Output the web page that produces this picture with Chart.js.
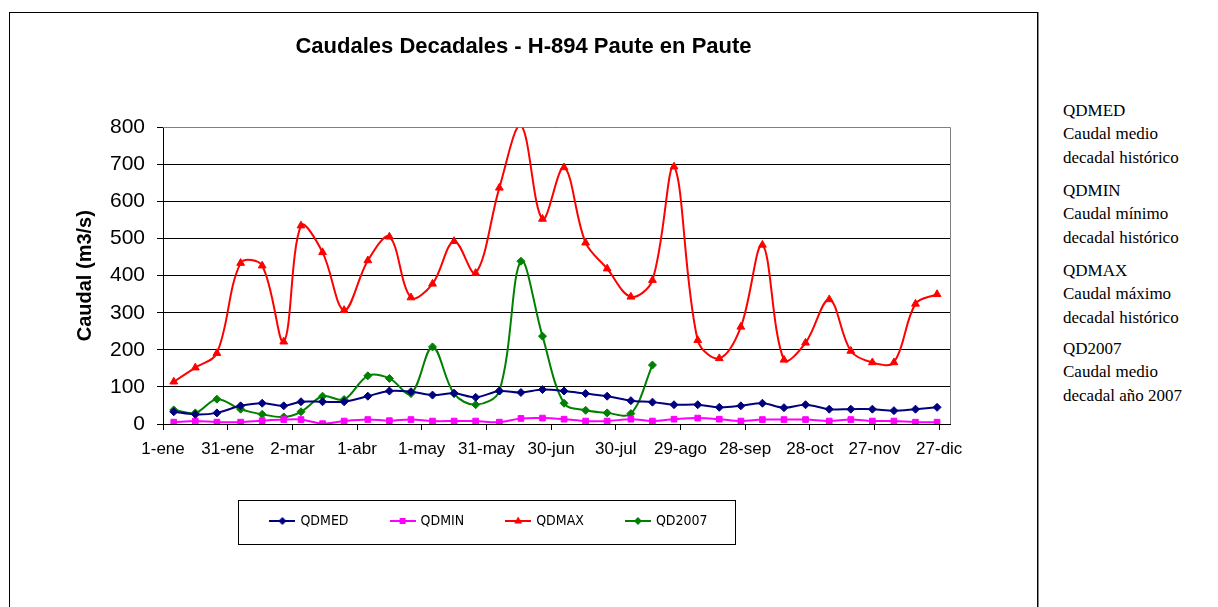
<!DOCTYPE html>
<html><head><meta charset="utf-8">
<script src="https://cdn.jsdelivr.net/npm/chart.js@4.4.1/dist/chart.umd.min.js"></script>
<style>
html,body{margin:0;padding:0;background:#fff;width:1218px;height:607px;overflow:hidden;}
#frame{position:absolute;left:9px;top:12px;width:1029px;height:640px;border:1px solid #000;box-sizing:border-box;box-shadow:1px 0 0 #888;}
#wrap{position:absolute;left:10px;top:13px;width:960px;height:580px;}
#notes{position:absolute;left:1063px;top:0;font-family:'Liberation Serif','Times New Roman',serif;font-size:17px;line-height:23.75px;color:#000;}
#notes .g{position:absolute;left:0;white-space:nowrap;}
</style>
</head><body>
<div id="frame"></div>
<div id="wrap"><canvas id="c" width="960" height="580"></canvas></div>
<div id="notes">
  <div class="g" style="top:98.5px">QDMED<br>Caudal medio<br>decadal histórico</div>
  <div class="g" style="top:178.5px">QDMIN<br>Caudal mínimo<br>decadal histórico</div>
  <div class="g" style="top:258.5px">QDMAX<br>Caudal máximo<br>decadal histórico</div>
  <div class="g" style="top:336.5px">QD2007<br>Caudal medio<br>decadal año 2007</div>
</div>
<script>
// Decadas (fechas centrales de cada década)
const fechas = [
  '2007-01-06','2007-01-16','2007-01-26','2007-02-06','2007-02-16','2007-02-26',
  '2007-03-06','2007-03-16','2007-03-26','2007-04-06','2007-04-16','2007-04-26',
  '2007-05-06','2007-05-16','2007-05-26','2007-06-06','2007-06-16','2007-06-26',
  '2007-07-06','2007-07-16','2007-07-26','2007-08-06','2007-08-16','2007-08-26',
  '2007-09-06','2007-09-16','2007-09-26','2007-10-06','2007-10-16','2007-10-26',
  '2007-11-06','2007-11-16','2007-11-26','2007-12-06','2007-12-16','2007-12-26'
];
const QDMED  = [33,26,30,49,56,49,60,60,60,75,89,87,78,83,72,89,85,93,89,82,75,63,59,52,52,45,49,56,44,52,40,40,40,36,40,45];
const QDMIN  = [5,8,5,5,9,12,12,1,8,12,9,12,8,8,8,5,15,16,13,8,8,13,8,13,16,13,8,12,12,12,8,12,8,8,5,5];
const QDMAX  = [114,152,191,434,427,222,535,463,307,441,505,341,378,493,407,637,805,553,692,489,419,343,388,694,226,177,262,483,173,219,336,197,166,166,324,350];
const QD2007 = [38,30,67,40,26,19,33,75,66,130,123,82,208,82,52,89,439,237,56,37,30,28,159,null,null,null,null,null,null,null,null,null,null,null,null,null];
const etiquetasX = ['1-ene','31-ene','2-mar','1-abr','1-may','31-may','30-jun','30-jul','29-ago','28-sep','28-oct','27-nov','27-dic'];
const diasEtiquetas = [0,30,60,90,120,150,180,210,240,270,300,330,360];
const yMax = 800;

const dia = s => { const [y,m,d] = s.split('-').map(Number); return (Date.UTC(y,m-1,d) - Date.UTC(y,0,1)) / 86400000; };
const serie = arr => arr.map((v,i) => ({x: dia(fechas[i]), y: v}));

function legendIcon(color, style){
  const c = document.createElement('canvas'); c.width = 26; c.height = 12;
  const g = c.getContext('2d');
  g.strokeStyle = color; g.fillStyle = color; g.lineWidth = 2;
  g.beginPath(); g.moveTo(0,6); g.lineTo(26,6); g.stroke();
  g.beginPath();
  if (style === 'rectRot'){ g.moveTo(13,2); g.lineTo(17,6); g.lineTo(13,10); g.lineTo(9,6); }
  else if (style === 'rect'){ g.rect(10,3,6,6); }
  else { g.moveTo(13,1.5); g.lineTo(17,8.5); g.lineTo(9,8.5); }
  g.closePath(); g.fill();
  return c;
}

const defs = [
  {label:'QDMED', data:QDMED, color:'#000080', style:'rectRot', r:4},
  {label:'QDMIN', data:QDMIN, color:'#FF00FF', style:'rect', r:4},
  {label:'QDMAX', data:QDMAX, color:'#FF0000', style:'triangle', r:4.5},
  {label:'QD2007', data:QD2007, color:'#008000', style:'rectRot', r:4}
];

const legendBox = {
  id:'legendBox',
  afterLayout(chart){
    const t = chart.titleBlock; if (t){ t.left += 34; t.right += 34; }
  },
  beforeDatasetsDraw(chart){
    const a = chart.chartArea, ctx = chart.ctx;
    ctx.save(); ctx.strokeStyle = '#808080'; ctx.lineWidth = 1;
    ctx.beginPath();
    ctx.moveTo(a.left, Math.round(a.top)+0.5); ctx.lineTo(Math.round(a.right)+0.5, Math.round(a.top)+0.5);
    ctx.lineTo(Math.round(a.right)+0.5, a.bottom);
    ctx.stroke(); ctx.restore();
  },
  afterDraw(chart){
    const hb = chart.legend && chart.legend.legendHitBoxes;
    if (!hb || !hb.length) return;
    const first = hb[0], last = hb[hb.length-1];
    const cy = first.top + first.height/2;
    const l = Math.round(first.left - 33)+0.5, r = Math.round(last.left + last.width + 27)+0.5;
    const t = Math.round(cy - 21)+0.5, b = Math.round(cy + 23)+0.5;
    const ctx = chart.ctx; ctx.save(); ctx.strokeStyle = '#000'; ctx.lineWidth = 1;
    ctx.strokeRect(l, t, r-l, b-t); ctx.restore();
  }
};

new Chart(document.getElementById('c'), {
  type:'line',
  plugins:[legendBox],
  data:{ datasets: defs.map(d => ({
    label:d.label, data:serie(d.data),
    borderColor:d.color, backgroundColor:d.color, borderWidth:2,
    pointStyle:d.style, pointBorderColor:d.color, pointBackgroundColor:d.color, pointBorderWidth:1,
    pointRadius: ctx => (ctx.raw && ctx.raw.y > yMax ? 0 : d.r),
    tension:0.35, fill:false, spanGaps:false,
    legendIcon: legendIcon(d.color, d.style)
  }))},
  options:{
    responsive:false, animation:false, events:[],
    layout:{padding:{left:19,right:20,top:0,bottom:55}},
    plugins:{
      title:{display:true, text:'Caudales Decadales - H-894 Paute en Paute', color:'#000',
        font:{family:'Liberation Sans, Arial, sans-serif', size:22, weight:'bold'},
        padding:{top:21, bottom:67}},
      legend:{display:true, position:'bottom',
        labels:{usePointStyle:true, pointStyleWidth:22, padding:43, color:'#000',
          font:{family:"'Liberation Sans Narrow', 'DejaVu Sans Condensed', Arial, sans-serif", size:14},
          generateLabels(chart){
            return chart.data.datasets.map((ds,i)=>({text:ds.label, pointStyle:ds.legendIcon, fillStyle:ds.borderColor, strokeStyle:ds.borderColor, lineWidth:0, hidden:false, datasetIndex:i, fontColor:'#000'}));
          }}},
      tooltip:{enabled:false}
    },
    scales:{
      x:{type:'linear', min:0, max:365,
        afterBuildTicks(s){ s.ticks = diasEtiquetas.map(v => ({value:v})); },
        afterFit(s){ s.height = 47; s.paddingLeft = 0; s.paddingRight = 0; },
        grid:{drawOnChartArea:false, drawTicks:true, tickLength:6, color:'#000', lineWidth:1},
        border:{display:true, color:'#000', width:1},
        ticks:{autoSkip:false, maxRotation:0, padding:9, color:'#000',
          font:{family:'Liberation Sans, Arial, sans-serif', size:17},
          callback:(v,i)=>etiquetasX[i]}
      },
      y:{min:0, max:yMax,
        afterFit(s){ s.width = 134; },
        grid:{color:'#000', lineWidth:1, tickLength:6, drawTicks:true},
        border:{display:true, color:'#000', width:1},
        ticks:{stepSize:100, padding:12, color:'#000',
          font:{family:'Liberation Sans, Arial, sans-serif', size:21}},
        title:{display:true, text:'Caudal (m3/s)', color:'#000',
          font:{family:'Liberation Sans, Arial, sans-serif', size:20, weight:'bold'},
          padding:{top:44, bottom:0}}
      }
    }
  }
});
</script>
</body></html>
